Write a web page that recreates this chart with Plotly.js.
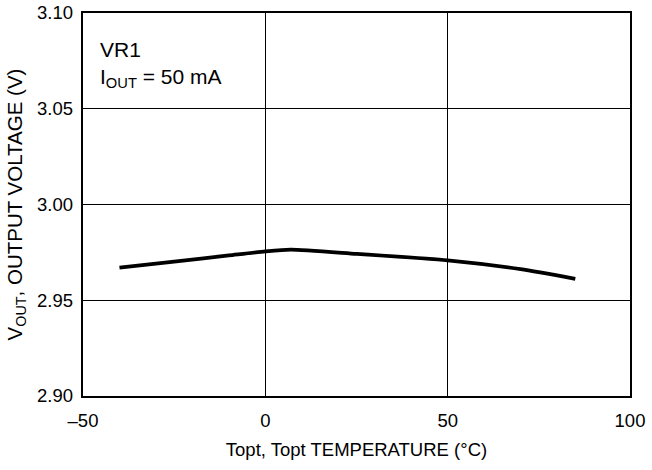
<!DOCTYPE html>
<html>
<head>
<meta charset="utf-8">
<script src="https://cdn.plot.ly/plotly-3.0.1.min.js"></script>
<style>html,body{margin:0;padding:0;background:#fff;}#chart{width:652px;height:470px;}</style>
</head>
<body>
<div id="chart"></div>
<script>
const temperature = [-40, -25, -10, 0, 7, 25, 50, 70, 85];
const outputVoltage = [2.967, 2.9702, 2.9734, 2.9755, 2.9764, 2.9742, 2.9708, 2.9662, 2.9612];
const xTickValues = [-50, 0, 50, 100];
const xTickLabels = ['\u201350', '0', '50', '100'];
const yTickValues = [2.90, 2.95, 3.00, 3.05, 3.10];
const yTickLabels = ['2.90', '2.95', '3.00', '3.05', '3.10'];

const fam = 'Liberation Sans, Arial, sans-serif';
const font = {family: fam, size: 18.5, color: '#000'};
const yTitleFont = {family: fam, size: 20.5, color: '#000'};
const annFont = {family: fam, size: 21, color: '#000'};

Plotly.newPlot('chart', [{
  x: temperature, y: outputVoltage, type: 'scatter', mode: 'lines',
  line: {color: '#000', width: 3.8, shape: 'spline', smoothing: 0.6},
  hoverinfo: 'skip'
}], {
  width: 652, height: 470,
  margin: {l: 82.5, r: 22, t: 13, b: 74.3},
  paper_bgcolor: '#fff', plot_bgcolor: '#fff',
  font: font,
  showlegend: false,
  xaxis: {
    range: [-50, 100], tickvals: xTickValues, ticktext: xTickLabels,
    showgrid: true, gridcolor: '#000', gridwidth: 1.4,
    showline: true, linecolor: '#000', linewidth: 2.2, mirror: true,
    ticks: '', zeroline: false, ticklabelstandoff: 7,
    tickfont: font,
    title: {text: 'Topt, Topt TEMPERATURE (\u00B0C)', font: font, standoff: 13}
  },
  yaxis: {
    range: [2.90, 3.10], tickvals: yTickValues, ticktext: yTickLabels,
    showgrid: true, gridcolor: '#000', gridwidth: 1.4,
    showline: true, linecolor: '#000', linewidth: 2.2, mirror: true,
    ticks: '', zeroline: false, ticklabelstandoff: 4,
    tickfont: font,
    title: {text: 'V<sub>OUT</sub>, OUTPUT VOLTAGE (V)', font: yTitleFont, standoff: 9}
  },
  annotations: [
    {xref: 'paper', yref: 'paper', x: 0.028, y: 0.904, xanchor: 'left', yanchor: 'middle',
     text: 'VR1', showarrow: false, font: annFont},
    {xref: 'paper', yref: 'paper', x: 0.028, y: 0.830, xanchor: 'left', yanchor: 'middle',
     text: 'I<sub>OUT</sub> = 50 mA', showarrow: false, font: annFont}
  ]
}, {staticPlot: true, displayModeBar: false});
</script>
</body>
</html>
